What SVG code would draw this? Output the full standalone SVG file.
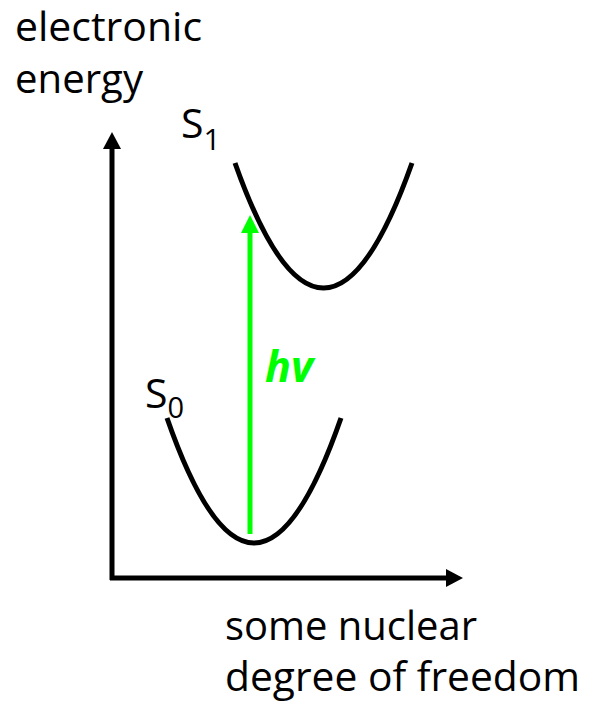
<svg xmlns="http://www.w3.org/2000/svg" width="590" height="708" viewBox="0 0 590 708">
<style>
.t{font-family:"Open Sans","Noto Sans",sans-serif;font-size:41px;fill:#000}
.curve{fill:none;stroke:#000;stroke-width:5}
.axis{stroke:#000;stroke-width:5;fill:none}
.hv{font-family:"Open Sans","Noto Sans",sans-serif;font-size:43px;font-weight:bold;font-style:italic;fill:#00ff00}
</style>
<rect width="590" height="708" fill="#fff"/>
<g id="axes">
<line class="axis" x1="112" y1="148" x2="112" y2="580"/>
<polygon points="112,132 103,149 121,149" fill="#000"/>
<line class="axis" x1="110" y1="578" x2="447" y2="578"/>
<polygon points="463,578 446,569 446,587" fill="#000"/>
</g>
<g id="ylabel">
<text class="t" x="15" y="41" textLength="187" lengthAdjust="spacingAndGlyphs">electronic</text>
<text class="t" x="15" y="93" textLength="128" lengthAdjust="spacingAndGlyphs">energy</text>
</g>
<g id="xlabel">
<text class="t" x="225" y="640" textLength="252" lengthAdjust="spacingAndGlyphs">some nuclear</text>
<text class="t" x="225" y="691" textLength="355" lengthAdjust="spacingAndGlyphs">degree of freedom</text>
</g>
<g id="S1">
<path class="curve" d="M235,163 Q323.5,413 412,163"/>
<text class="t" x="181" y="138" font-size="42">S<tspan font-size="30" dy="12">1</tspan></text>
</g>
<g id="S0">
<path class="curve" d="M167,418 Q254,668 341,418"/>
<text class="t" x="145" y="408" font-size="42">S<tspan font-size="29" dy="10">0</tspan></text>
</g>
<g id="connectors">
<line x1="250" y1="534" x2="250" y2="230" stroke="#00ff00" stroke-width="5"/>
<polygon points="250,215 241,233 259,233" fill="#00ff00"/>
<text class="hv" x="265" y="382">hv</text>
</g>
</svg>
